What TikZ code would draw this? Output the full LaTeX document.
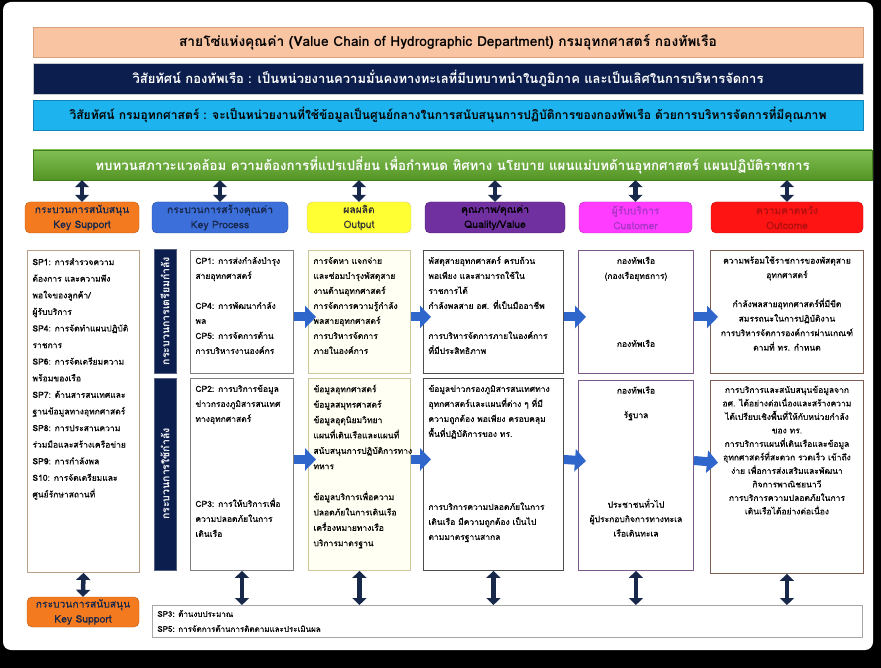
\documentclass[tikz,border=0pt]{standalone}
\usepackage{fontspec}
\setmainfont[Script=Thai]{Loma}
\newfontfamily\cellfont[Script=Thai, FakeBold=0.4]{Loma}
\usetikzlibrary{arrows.meta, positioning}
\definecolor{peach}{HTML}{F8C4A2}
\definecolor{peachline}{HTML}{D9A07C}
\definecolor{navyband}{HTML}{0B1E4E}
\definecolor{skyband}{HTML}{1DB3EE}
\definecolor{skyline}{HTML}{1385B8}
\definecolor{envgreen}{HTML}{62AE2A}
\definecolor{envline}{HTML}{3F7E1A}
\definecolor{ksorange}{HTML}{F47A20}
\definecolor{kpblue}{HTML}{3D6FDB}
\definecolor{opyellow}{HTML}{FFFF33}
\definecolor{qvpurple}{HTML}{7030A0}
\definecolor{cumagenta}{HTML}{FF3CFF}
\definecolor{ocred}{HTML}{FF1414}
\definecolor{arrnavy}{HTML}{17284A}
\definecolor{blkblue}{HTML}{2F66CC}
\definecolor{tanline}{HTML}{B9A189}
\definecolor{khaki}{HTML}{CDC79B}
\definecolor{paleyellow}{HTML}{FFFFF3}
\definecolor{plumline}{HTML}{7A5A8C}
\definecolor{brownline}{HTML}{7D5E52}
\newcommand{\cellin}[4]{\begin{minipage}[t][#2pt][t]{#1pt}\cellfont\fontsize{8.5}{#3}\selectfont\strut #4\end{minipage}}
\tikzset{
  banner/.style={draw, minimum width=830pt, minimum height=30pt, inner sep=0pt,
    font=\bfseries\fontsize{12.8}{14}\selectfont},
  head/.style={draw, rounded corners=5pt, minimum height=31pt, align=center, inner sep=0pt,
    font=\cellfont\fontsize{10.3}{15}\selectfont},
  cell/.style={draw=#1, fill=white, line width=0.9pt, anchor=north west, inner xsep=5pt, inner ysep=3pt},
  vbar/.style={fill=navyband, draw=navyband!70, text=white, rotate=90, inner sep=0pt,
    font=\bfseries\fontsize{10.5}{12}\selectfont},
  dblarr/.style={{Triangle[width=14pt,length=7pt]}-{Triangle[width=14pt,length=7pt]},
    line width=4.5pt, draw=arrnavy},
  blkarr/.style={-{Triangle[width=22pt,length=11pt]}, line width=9pt, draw=blkblue, shorten >=-8pt}
}
\begin{document}
\begin{tikzpicture}[x=1pt, y=-1pt]
\useasboundingbox (0,0) rectangle (881,668);
\fill[black] (0,0) rectangle (881,668);
\fill[white, rounded corners=8pt] (3,2) rectangle (873,650);

% วิสัยทัศน์
\node[banner, fill=peach, draw=peachline, font=\bfseries\fontsize{13.8}{15}\selectfont] (vcbar) at (448,42.5)
  {สายโซ่แห่งคุณค่า (Value Chain of Hydrographic Department) กรมอุทกศาสตร์ กองทัพเรือ};
\node[banner, fill=navyband, draw=gray!40, text=white, minimum height=31pt, font=\bfseries\fontsize{13}{15}\selectfont] (navyvis) at (448,78.5)
  {วิสัยทัศน์ กองทัพเรือ : เป็นหน่วยงานความมั่นคงทางทะเลที่มีบทบาทนำในภูมิภาค และเป็นเลิศในการบริหารจัดการ};
\node[banner, fill=skyband, draw=skyline, font=\bfseries\fontsize{12.1}{14}\selectfont] (hydvis) at (448,115)
  {วิสัยทัศน์ กรมอุทกศาสตร์ : จะเป็นหน่วยงานที่ใช้ข้อมูลเป็นศูนย์กลางในการสนับสนุนการปฏิบัติการของกองทัพเรือ ด้วยการบริหารจัดการที่มีคุณภาพ};
\node[banner, top color=envgreen!80!white, bottom color=envgreen!85!black, draw=envline, text=white,
  minimum width=839pt, font=\bfseries\fontsize{13.3}{15}\selectfont] (envbar) at (452.5,165)
  {ทบทวนสภาวะแวดล้อม ความต้องการที่แปรเปลี่ยน เพื่อกำหนด ทิศทาง นโยบาย แผนแม่บทด้านอุทกศาสตร์ แผนปฏิบัติราชการ};

% หัวคอลัมน์
\node[head, fill=ksorange, draw=ksorange!75!black, text=arrnavy, minimum width=114pt] (ks) at (82,217.5)
  {กระบวนการสนับสนุน\\Key Support};
\node[head, fill=kpblue, draw=kpblue!70!black, text=arrnavy, minimum width=136pt] (kp) at (220,217.5)
  {กระบวนการสร้างคุณค่า\\Key Process};
\node[head, fill=opyellow, draw=khaki, text=black!80, minimum width=104pt] (op) at (359,217.5)
  {ผลผลิต\\Output};
\node[head, fill=qvpurple, draw=qvpurple!70!black, text=black, minimum width=140pt] (qv) at (495,217.5)
  {คุณภาพ/คุณค่า\\Quality/Value};
\node[head, fill=cumagenta, draw=cumagenta!75!black, text=qvpurple!60!cumagenta, minimum width=113pt] (cu) at (635.5,217.5)
  {ผู้รับบริการ\\Customer};
\node[head, fill=ocred, draw=ocred!75!black, text=ocred!70!black, minimum width=152pt] (oc) at (787,217.5)
  {ความคาดหวัง\\Outcome};

\foreach \h in {ks,kp,op,qv,cu,oc}
  \draw[dblarr] (\h.north |- envbar.south) -- (\h.north);

% กระบวนการสนับสนุน
\node[cell=tanline] (sp) at (27,250) {\cellin{102}{316}{16.6}{SP1: การสำรวจความ\\ต้องการ และความพึง\\พอใจของลูกค้า/\\ผู้รับบริการ\\SP4: การจัดทำแผนปฏิบัติ\\ราชการ\\SP6: การจัดเตรียมความ\\พร้อมของเรือ\\SP7: ด้านสารสนเทศและ\\ฐานข้อมูลทางอุทกศาสตร์\\SP8: การประสานความ\\ร่วมมือและสร้างเครือข่าย\\SP9: การกำลังพล\\S10: การจัดเตรียมและ\\ศูนย์รักษาสถานที่}};

% กระบวนการเตรียมกำลัง / ใช้กำลัง
\node[vbar, minimum width=124pt, minimum height=22pt] (prepbar) at (165,311) {กระบวนการเตรียมกำลัง};
\node[vbar, minimum width=192pt, minimum height=22pt] (usebar) at (165,474) {กระบวนการใช้กำลัง};

\node[cell=gray] (cpprep) at (190,250) {\cellin{93}{117}{15}{CP1: การส่งกำลังบำรุง\\สายอุทกศาสตร์\\[15pt]CP4: การพัฒนากำลัง\\พล\\CP5: การจัดการด้าน\\การบริหารงานองค์กร}};
\node[cell=gray] (cpuse) at (190,378) {\cellin{93}{186}{15}{CP2: การบริการข้อมูล\\ข่าวกรองภูมิสารสนเทศ\\ทางอุทกศาสตร์\\[70pt]CP3: การให้บริการเพื่อ\\ความปลอดภัยในการ\\เดินเรือ}};

\node[cell=khaki, fill=paleyellow] (outprep) at (308,250) {\cellin{92}{117}{15}{การจัดหา แจกจ่าย\\และซ่อมบำรุงพัสดุสาย\\งานด้านอุทกศาสตร์\\การจัดการความรู้กำลัง\\พลสายอุทกศาสตร์\\การบริหารจัดการ\\ภายในองค์การ}};
\node[cell=khaki, fill=paleyellow] (outuse) at (308,378) {\cellin{92}{186}{15.4}{ข้อมูลอุทกศาสตร์\\ข้อมูลสมุทรศาสตร์\\ข้อมูลอุตุนิยมวิทยา\\แผนที่เดินเรือและแผนที่\\สนับสนุนการปฏิบัติการทาง\\ทหาร\\[15.4pt]ข้อมูลบริการเพื่อความ\\ปลอดภัยในการเดินเรือ\\เครื่องหมายทางเรือ\\บริการมาตรฐาน}};

\node[cell=black!70] (qvprep) at (423,250) {\cellin{130}{117}{15}{พัสดุสายอุทกศาสตร์ ครบถ้วน\\พอเพียง และสามารถใช้ใน\\ราชการได้\\กำลังพลสาย อศ. ที่เป็นมืออาชีพ\\[15pt]การบริหารจัดการภายในองค์การ\\ที่มีประสิทธิภาพ}};
\node[cell=black!70] (qvuse) at (423,378) {\cellin{130}{186}{15}{ข้อมูลข่าวกรองภูมิสารสนเทศทาง\\อุทกศาสตร์และแผนที่ต่าง ๆ ที่มี\\ความถูกต้อง พอเพียง ครอบคลุม\\พื้นที่ปฏิบัติการของ ทร.\\[58pt]การบริการความปลอดภัยในการ\\เดินเรือ มีความถูกต้อง เป็นไป\\ตามมาตรฐานสากล}};

\node[cell=plumline] (cuprep) at (578,250) {\cellin{105}{117}{15}{\centering กองทัพเรือ\\(กองเรือยุทธการ)\\[53pt]กองทัพเรือ}};
\node[cell=plumline] (cuuse) at (578,380) {\cellin{105}{184}{14.5}{\centering กองทัพเรือ\\[10pt]รัฐบาล\\[75pt]ประชาชนทั่วไป\\ผู้ประกอบกิจการทางทะเล\\เรือเดินทะเล}};

\node[cell=brownline] (ocprep) at (710,250) {\cellin{143}{117}{14.5}{\centering ความพร้อมใช้ราชการของพัสดุสาย\\อุทกศาสตร์\\[14.5pt]กำลังพลสายอุทกศาสตร์ที่มีขีด\\สมรรถนะในการปฏิบัติงาน\\การบริหารจัดการองค์การผ่านเกณฑ์\\ตามที่ ทร. กำหนด}};
\node[cell=brownline] (ocuse) at (710,380) {\cellin{143}{187}{13.5}{\centering การบริการและสนับสนุนข้อมูลจาก\\อศ. ได้อย่างต่อเนื่องและสร้างความ\\ได้เปรียบเชิงพื้นที่ให้กับหน่วยกำลัง\\ของ ทร.\\การบริการแผนที่เดินเรือและข้อมูล\\อุทกศาสตร์ที่สะดวก รวดเร็ว เข้าถึง\\ง่าย เพื่อการส่งเสริมและพัฒนา\\กิจการพาณิชยนาวี\\การบริการความปลอดภัยในการ\\เดินเรือได้อย่างต่อเนื่อง}};

% ลูกศรระหว่างคอลัมน์
\draw[blkarr] ([yshift=-5pt]cpprep.east) -- ([yshift=-5pt]outprep.west);
\draw[blkarr] ([yshift=-5pt]outprep.east) -- ([yshift=-5pt]qvprep.west);
\draw[blkarr] ([yshift=-5pt]qvprep.east) -- ([yshift=-5pt]cuprep.west);
\draw[blkarr] ([yshift=-5pt]cuprep.east) -- ([yshift=-5pt]ocprep.west);
\draw[blkarr] ([yshift=15pt]cpuse.east) -- ([yshift=15pt]outuse.west);
\draw[blkarr] ([yshift=15pt]outuse.east) -- ([yshift=15pt]qvuse.west);
\draw[blkarr] ([yshift=15pt]qvuse.east) -- ([yshift=15pt]cuuse.west);
\draw[blkarr] ([yshift=15pt]cuuse.east) -- ([yshift=15pt]ocuse.west);

% แถวล่าง
\node[head, fill=ksorange, draw=ksorange!75!black, text=arrnavy, minimum width=112pt, minimum height=30pt] (ksbot) at (83,612)
  {กระบวนการสนับสนุน\\Key Support};
\node[cell=gray!70, line width=0.7pt, inner ysep=1pt] (spbot) at (152,605) {\begin{minipage}[t][30pt][t]{700pt}\cellfont\fontsize{8}{15}\selectfont\strut SP3: ด้านงบประมาณ\\SP5: การจัดการด้านการติดตามและประเมินผล\end{minipage}};

\draw[dblarr] (sp.south) -- (ksbot.north);
\foreach \c in {cpuse,outuse,qvuse,cuuse,ocuse}
  \draw[dblarr] (\c.south) -- (\c.south |- spbot.north);
\end{tikzpicture}
\end{document}
